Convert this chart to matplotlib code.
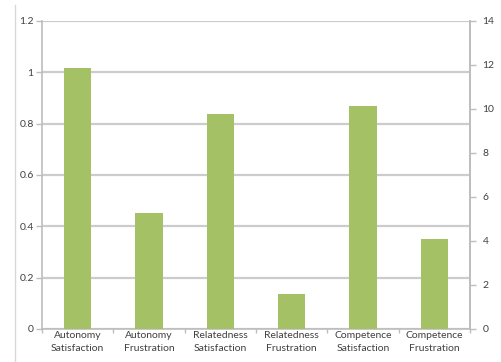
import matplotlib.pyplot as plt
import numpy as np
from matplotlib.lines import Line2D

categories = ["Autonomy\nSatisfaction", "Autonomy\nFrustration", "Relatedness\nSatisfaction",
              "Relatedness\nFrustration", "Competence\nSatisfaction", "Competence\nFrustration"]
values = [1.017, 0.452, 0.837, 0.136, 0.868, 0.351]
left_ticks = [0, 0.2, 0.4, 0.6, 0.8, 1, 1.2]
left_labels = ["0", "0.2", "0.4", "0.6", "0.8", "1", "1.2"]
right_ticks = [0, 2, 4, 6, 8, 10, 12, 14]

plt.rcParams['font.family'] = ['Lato', 'DejaVu Sans']
grey = "#bdbdbd"
text_col = "#404040"

fig = plt.figure(figsize=(5.02, 3.62), dpi=100)
ax = fig.add_axes([42 / 502, 33 / 362, 428 / 502, 308 / 362])

x = np.arange(len(categories))
ax.bar(x, values, width=0.38, color="#A5C165", zorder=3)

ax.set_xlim(-0.5, len(categories) - 0.5)
ax.set_ylim(0, 1.2)
ax.set_yticks(left_ticks)
ax.set_yticklabels(left_labels)
ax.yaxis.grid(True, color="#cccccc", linewidth=1.6, zorder=0)

ax.set_xticks(x)
ax.set_xticklabels(categories, fontsize=7.5, color=text_col, linespacing=1.55)
ax.tick_params(axis="x", length=0, pad=1.5)
ax.set_xticks(np.arange(len(categories) + 1) - 0.5, minor=True)
ax.tick_params(axis="x", which="minor", length=3, color=grey, width=1)
ax.tick_params(axis="y", length=4, color=grey, width=1, labelsize=7.5, labelcolor=text_col, pad=2)

for side in ["top"]:
    ax.spines[side].set_visible(False)
for side in ["left", "right", "bottom"]:
    ax.spines[side].set_color(grey)
    ax.spines[side].set_linewidth(1.2)

ax2 = ax.twinx()
ax2.set_ylim(0, 14)
ax2.set_yticks(right_ticks)
ax2.tick_params(axis="y", length=4, color=grey, width=1, labelsize=7.5, labelcolor=text_col, pad=5)
for side in ["top", "left", "bottom"]:
    ax2.spines[side].set_visible(False)
ax2.spines["right"].set_color(grey)
ax2.spines["right"].set_linewidth(1.2)

fig.add_artist(Line2D([15 / 502, 15 / 502], [0, 1 - 5 / 362], color="#d8d8d8", linewidth=1))

fig.savefig("out.png", dpi=100, facecolor="white")
